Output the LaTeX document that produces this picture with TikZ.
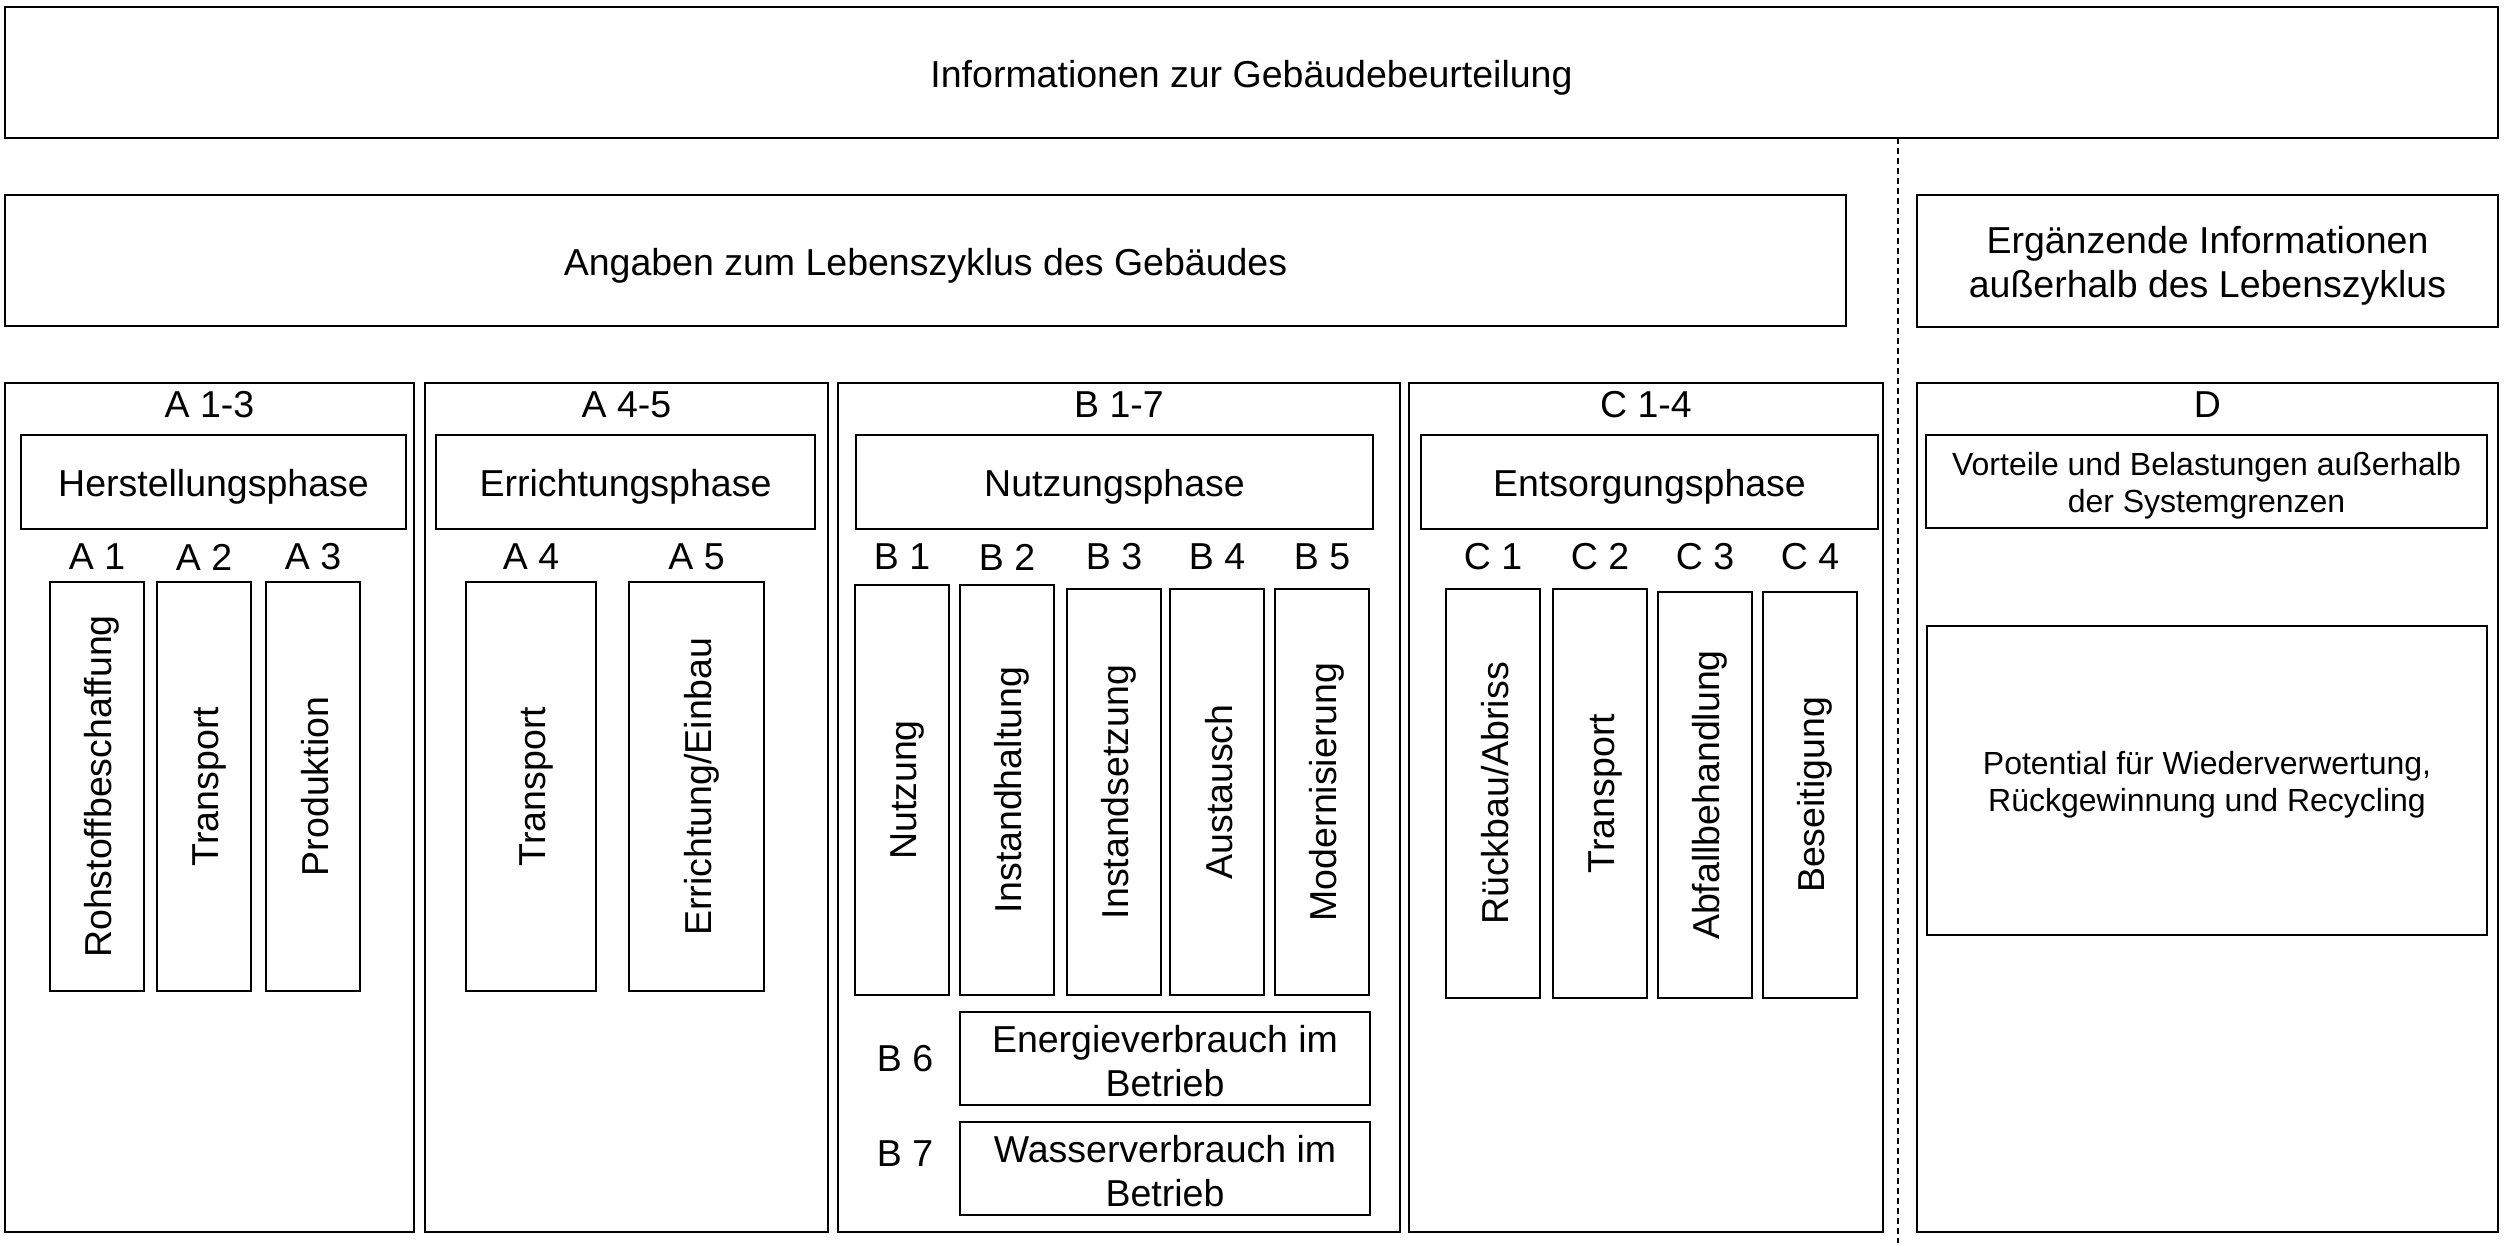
\documentclass[tikz,border=0pt]{standalone}
\usepackage{fontspec}
\setmainfont{Liberation Sans}
% line struts: fixed ascent/descent per text line
\newcommand\lnstrut{\rule[-3.25pt]{0pt}{22pt}}
\newcommand\smstrut{\rule[-2.75pt]{0pt}{18.75pt}}
\begin{document}
\begin{tikzpicture}[x=0.5pt,y=-0.5pt,
  font=\fontsize{18.75}{22}\selectfont,
  frame/.style={draw, line width=1.2pt, inner sep=0pt, outer sep=0pt, align=center},
  small/.style={font=\fontsize{16}{18.75}\selectfont},
  lbl/.style={inner sep=0pt},
  vtext/.style={rotate=90, inner sep=0pt},
  sepline/.style={line width=0.6pt, dash pattern=on 3pt off 2pt}]
\lineskiplimit=-100pt
% \boxnode[options]{name}{x1}{y1}{x2}{y2}{text}
\newcommand\boxnode[7][]{\node[frame,#1,minimum width={((#5)-(#3))*0.5pt},minimum height={((#6)-(#4))*0.5pt}] (#2) at ({((#3)+(#5))/2},{((#4)+(#6))/2}) {#7};}
\useasboundingbox (0,0) rectangle (2506,1245);

% top rows
\boxnode{info}{5}{7}{2498}{138}{\lnstrut Informationen zur Gebäudebeurteilung}
\boxnode{life}{5}{195}{1846}{326}{\lnstrut Angaben zum Lebenszyklus des Gebäudes}
\boxnode{extra}{1917}{195}{2498}{327}{\lnstrut Ergänzende Informationen\\\lnstrut außerhalb des Lebenszyklus}

% separator between life cycle and module D
\coordinate (sepTop) at (1898,138);
\coordinate (sepBot) at (1898,1243);
\draw[sepline] (sepTop) -- (sepBot);

% phase frames
\boxnode{pA13}{5}{383}{414}{1232}{}
\boxnode{pA45}{425}{383}{828}{1232}{}
\boxnode{pB17}{838}{383}{1400}{1232}{}
\boxnode{pC14}{1409}{383}{1883}{1232}{}
\boxnode{pD}{1917}{383}{2498}{1232}{}

% phase headers
\node[lbl] (hA13) at (pA13.north |- 0,405) {A 1-3};
\node[lbl] (hA45) at (pA45.north |- 0,405) {A 4-5};
\node[lbl] (hB17) at (pB17.north |- 0,405) {B 1-7};
\node[lbl] (hC14) at (pC14.north |- 0,405) {C 1-4};
\node[lbl] (hD) at (pD.north |- 0,405) {D};

% phase names
\boxnode{nA13}{21}{435}{406}{529}{\lnstrut Herstellungsphase}
\boxnode{nA45}{436}{435}{815}{529}{\lnstrut Errichtungsphase}
\boxnode{nB17}{856}{435}{1373}{529}{\lnstrut Nutzungsphase}
\boxnode{nC14}{1421}{435}{1878}{529}{\lnstrut Entsorgungsphase}
\boxnode[small]{nD}{1926}{435}{2487}{528}{\smstrut Vorteile und Belastungen außerhalb\\\smstrut der Systemgrenzen}

% modules A
\boxnode{a1}{50}{582}{144}{991}{}
\boxnode{a2}{157}{582}{251}{991}{}
\boxnode{a3}{266}{582}{360}{991}{}
\boxnode{a4}{466}{582}{596}{991}{}
\boxnode{a5}{629}{582}{764}{991}{}
% modules B
\boxnode{b1}{855}{585}{949}{995}{}
\boxnode{b2}{960}{585}{1054}{995}{}
\boxnode{b3}{1067}{589}{1161}{995}{}
\boxnode{b4}{1170}{589}{1264}{995}{}
\boxnode{b5}{1275}{589}{1369}{995}{}
\boxnode{b6}{960}{1012}{1370}{1105}{\lnstrut Energieverbrauch im\\\lnstrut Betrieb}
\boxnode{b7}{960}{1122}{1370}{1215}{\lnstrut Wasserverbrauch im\\\lnstrut Betrieb}
% modules C
\boxnode{c1}{1446}{589}{1540}{998}{}
\boxnode{c2}{1553}{589}{1647}{998}{}
\boxnode{c3}{1658}{592}{1752}{998}{}
\boxnode{c4}{1763}{592}{1857}{998}{}
% module D
\boxnode[small]{d1}{1927}{626}{2487}{935}{\smstrut Potential für Wiederverwertung,\\\smstrut Rückgewinnung und Recycling}

% module codes
\foreach \m/\t in {a1/A 1,a2/A 2,a3/A 3,a4/A 4,a5/A 5,b1/B 1,b2/B 2,b3/B 3,b4/B 4,b5/B 5,c1/C 1,c2/C 2,c3/C 3,c4/C 4}
  \node[lbl] (\m l) at (\m.north |- 0,557) {\t};
\node[lbl] (b6l) at (905,1059) {B 6};
\node[lbl] (b7l) at (905,1154) {B 7};

% vertical module names
\node[vtext] (a1t) at (a1) {\lnstrut Rohstoffbeschaffung};
\node[vtext] (a2t) at (a2) {\lnstrut Transport};
\node[vtext] (a3t) at (a3) {\lnstrut Produktion};
\node[vtext] (a4t) at (a4) {\lnstrut Transport};
\node[vtext] (a5t) at (a5) {\lnstrut Errichtung/Einbau};
\node[vtext] (b1t) at (b1) {\lnstrut Nutzung};
\node[vtext] (b2t) at (b2) {\lnstrut Instandhaltung};
\node[vtext] (b3t) at (b3) {\lnstrut Instandsetzung};
\node[vtext] (b4t) at (b4) {\lnstrut Austausch};
\node[vtext] (b5t) at (b5) {\lnstrut Modernisierung};
\node[vtext] (c1t) at (c1) {\lnstrut Rückbau/Abriss};
\node[vtext] (c2t) at (c2) {\lnstrut Transport};
\node[vtext] (c3t) at (c3) {\lnstrut Abfallbehandlung};
\node[vtext] (c4t) at (c4) {\lnstrut Beseitigung};
\end{tikzpicture}
\end{document}
